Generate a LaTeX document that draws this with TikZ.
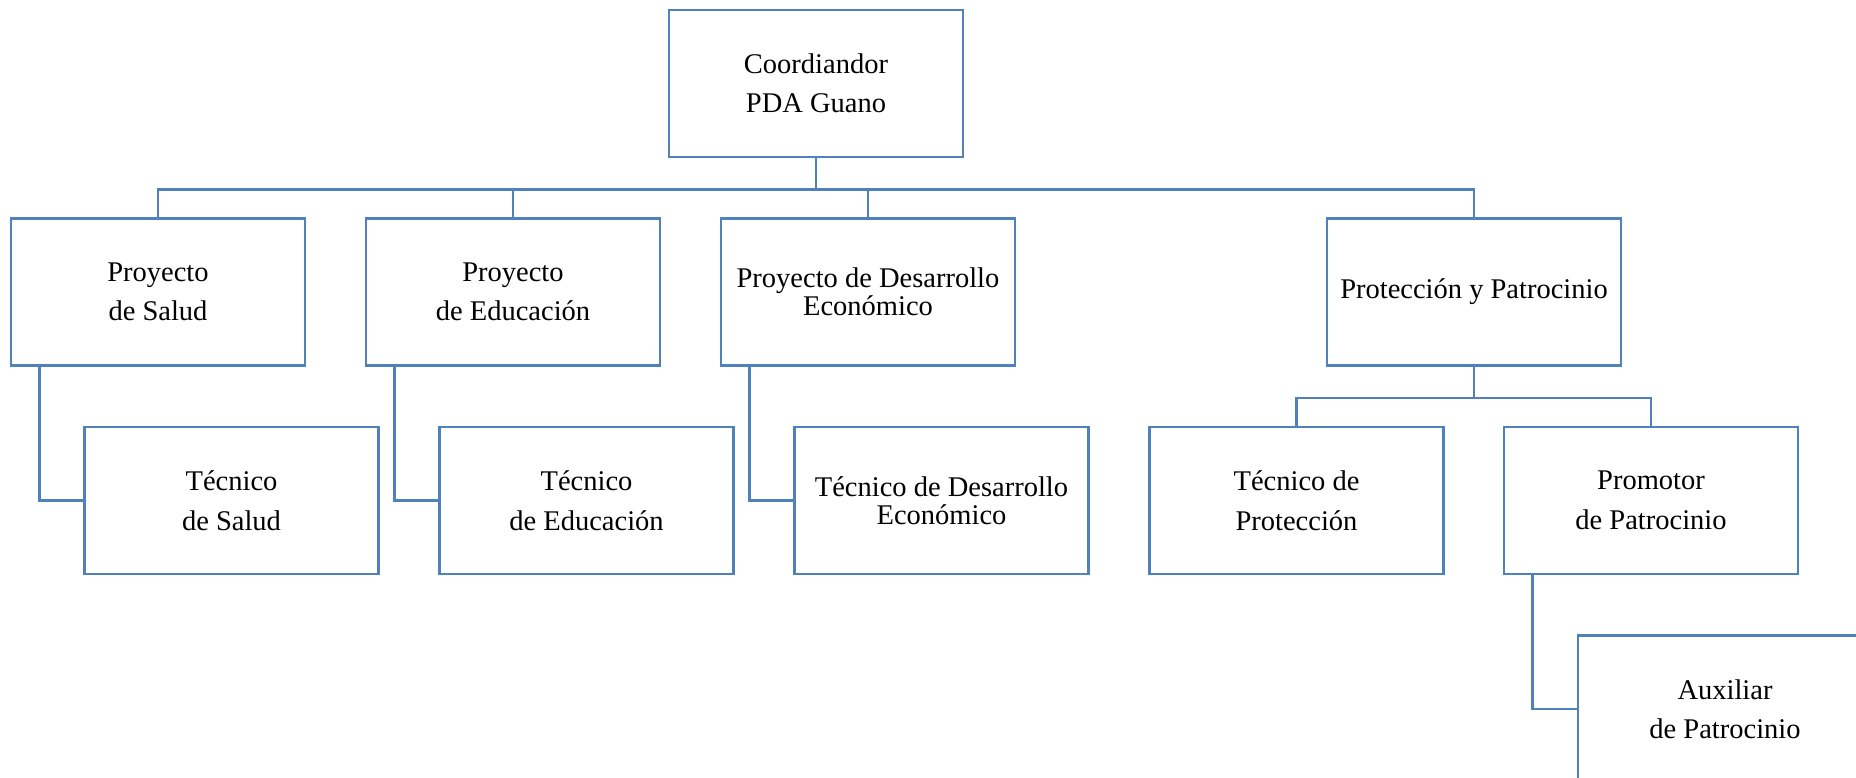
\documentclass[tikz,border=0pt]{standalone}
\usepackage{fontspec}
\setmainfont{Liberation Serif}
\usepackage{tikz}
\usetikzlibrary{positioning}
\definecolor{orgblue}{RGB}{79,129,189}

\begin{document}
\begin{tikzpicture}[x=1pt,y=-1pt,on grid,
	unit/.style={draw=orgblue,line width=2.6pt,minimum width=294pt,minimum height=147pt,inner sep=0pt,align=center,font=\fontsize{28.5}{39.5}\selectfont},
	tight/.style={font=\fontsize{28.5}{28.5}\selectfont},
	conn/.style={draw=orgblue,line width=2.6pt}]
	\useasboundingbox (0,0) rectangle (1856,778);

	\node(coord) [unit] at (816,83.5) {Coordiandor\\PDA Guano};
	\node(psalud) [unit, below left=208.5pt and 658pt of coord] {Proyecto\\de Salud};
	\node(peduc) [unit, right=355pt of psalud] {Proyecto\\de Educación};
	\node(pdes) [unit, tight, right=355pt of peduc] {Proyecto de Desarrollo\\Económico};
	\node(pprot) [unit, right=606pt of pdes] {Protección y Patrocinio};
	\node(tsalud) [unit, below right=208.5pt and 73.5pt of psalud] {Técnico\\de Salud};
	\node(teduc) [unit, below right=208.5pt and 73.5pt of peduc] {Técnico\\de Educación};
	\node(tdes) [unit, tight, below right=208.5pt and 73.5pt of pdes] {Técnico de Desarrollo\\Económico};
	\node(tprot) [unit, below left=208.5pt and 177.5pt of pprot] {Técnico de\\Protección};
	\node(prom) [unit, below right=208.5pt and 177pt of pprot] {Promotor\\de Patrocinio};
	\node(aux) [unit, below right=208.5pt and 74pt of prom] {Auxiliar\\de Patrocinio};

	\draw[conn] (coord.south) -- ++(0,31) -| (psalud.north);
	\draw[conn] (coord.south) -- ++(0,31) -| (peduc.north);
	\draw[conn] (coord.south) -- ++(0,31) -| (pdes.north);
	\draw[conn] (coord.south) -- ++(0,31) -| (pprot.north);
	\draw[conn] ([xshift=30pt]psalud.south west) |- (tsalud.west);
	\draw[conn] ([xshift=30pt]peduc.south west) |- (teduc.west);
	\draw[conn] ([xshift=30pt]pdes.south west) |- (tdes.west);
	\draw[conn] (pprot.south) -- ++(0,31) -| (tprot.north);
	\draw[conn] (pprot.south) -- ++(0,31) -| (prom.north);
	\draw[conn] ([xshift=30pt]prom.south west) |- (aux.west);

	\end{tikzpicture}
\end{document}
